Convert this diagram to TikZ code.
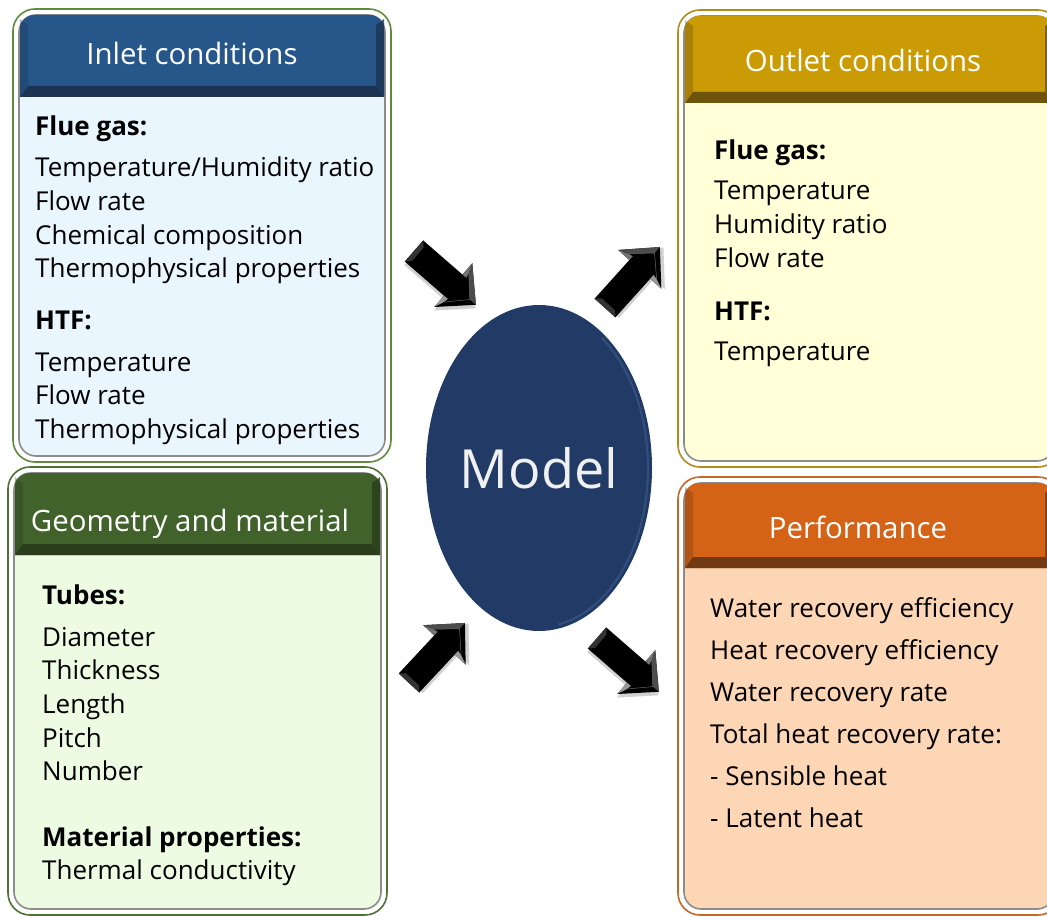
\documentclass[tikz,border=0pt]{standalone}
\usepackage{fontspec}
\setmainfont{Open Sans}
\usetikzlibrary{shapes.geometric}
\definecolor{inOut}{HTML}{5F8A3C}
\definecolor{inHead}{HTML}{26568A}
\definecolor{inDark}{HTML}{1C3452}
\definecolor{inBody}{HTML}{EAF6FD}
\definecolor{ouOut}{HTML}{B38A1C}
\definecolor{ouHead}{HTML}{CB9B06}
\definecolor{ouDark}{HTML}{6E530B}
\definecolor{ouBody}{HTML}{FFFFD8}
\definecolor{geOut}{HTML}{4E7034}
\definecolor{geHead}{HTML}{41622B}
\definecolor{geDark}{HTML}{2A3D1D}
\definecolor{geBody}{HTML}{EEFBE3}
\definecolor{peOut}{HTML}{C0692A}
\definecolor{peHead}{HTML}{D46318}
\definecolor{peDark}{HTML}{723A12}
\definecolor{peBody}{HTML}{FDD6B6}
\definecolor{modelBlue}{HTML}{213A66}
\definecolor{modelRim}{HTML}{5A78A6}
% #1 x1, #2 y1, #3 x2, #4 y2, #5 header bottom, #6 outline, #7 header, #8 dark, #9 body
\newcommand\mypanel[9]{%
  \draw[#6, line width=1.6, fill=white, rounded corners=22] (#1,-#2) rectangle (#3,-#4);
  \draw[black!45, line width=1.6, fill=#9, rounded corners=17] ({#1+6},{-#2-6}) rectangle ({#3-6},{-#4+6});
  \fill[#7] ({#1+7},{-#5}) {[rounded corners=14] -- ({#1+7},{-#2-6}) -- ({#3-7},{-#2-6})} -- ({#3-7},{-#5}) -- cycle;
  \fill[#8] ({#1+7},{-#5}) -- ({#1+15},{-#5+11}) -- ({#3-15},{-#5+11}) -- ({#3-7},{-#5}) -- cycle;
  \fill[#8, opacity=.8] ({#3-7},{-#5}) -- ({#3-15},{-#5+11}) -- ({#3-15},{-#2-16}) -- ({#3-7},{-#2-10}) -- cycle;
  \fill[#8, opacity=.35] ({#1+7},{-#5}) -- ({#1+15},{-#5+11}) -- ({#1+15},{-#2-16}) -- ({#1+7},{-#2-10}) -- cycle;
}
\tikzset{
  x=1pt, y=1pt,
  bodytxt/.style={anchor=base west, inner sep=0pt, text=black, font=\fontsize{26}{30}\selectfont},
  boldtxt/.style={anchor=base west, inner sep=0pt, text=black, font=\fontsize{26}{30}\selectfont\bfseries},
  titletxt/.style={anchor=base, inner sep=0pt, text=white, font=\fontsize{29.4}{34}\selectfont},
  blockarrow/.pic={
    \fill[black!40, opacity=.45, shift={(2,-3)}] (0,14) -- (52,14) -- (52,29) -- (82,0) -- (52,-29) -- (52,-14) -- (0,-14) -- cycle;
    \fill[black] (0,14) -- (52,14) -- (52,29) -- (82,0) -- (52,-29) -- (52,-14) -- (0,-14) -- cycle;
    \fill[black!55] (52,29) -- (56,19) -- (57,14) -- (52,14) -- cycle;
    \fill[black!40] (52,-29) -- (56,-19) -- (57,-14) -- (52,-14) -- cycle;
    \fill[black!70] (52,29) -- (82,0) -- (74,0) -- (56,19) -- cycle;
    \fill[black!80] (0,14) -- (5,9) -- (5,-9) -- (0,-14) -- cycle;
    \draw[black!60, line width=.5] (56,19) -- (74,0) -- (56,-19);
  }
}
\begin{document}
\begin{tikzpicture}
\clip (0,0) rectangle (1047,-917);
\fill[white] (0,0) rectangle (1047,-917);

% panels
\mypanel{13}{9}{391}{462}{97}{inOut}{inHead}{inDark}{inBody}
\mypanel{678}{10}{1060}{467}{103}{ouOut}{ouHead}{ouDark}{ouBody}
\mypanel{8}{467}{387}{915}{555}{geOut}{geHead}{geDark}{geBody}
\mypanel{678}{477}{1060}{915}{568}{peOut}{peHead}{peDark}{peBody}

% titles
\node[titletxt] (tin) at (192,-65) {Inlet conditions};
\node[titletxt] (tout) at (863,-72) {Outlet conditions};
\node[titletxt] (tgeo) at (190,-531) {Geometry and material};
\node[titletxt] (tperf) at (858,-538) {Performance};

% inlet text
\node[boldtxt] (ia) at (35,-136) {Flue gas:};
\node[bodytxt] (ib) at (35,-177) {Temperature/Humidity ratio};
\node[bodytxt] (ic) at (35,-211) {Flow rate};
\node[bodytxt] (id) at (35,-245) {Chemical composition};
\node[bodytxt] (ie) at (35,-278) {Thermophysical properties};
\node[boldtxt] (if) at (35,-330) {HTF:};
\node[bodytxt] (ig) at (35,-371) {Temperature};
\node[bodytxt] (ih) at (35,-404) {Flow rate};
\node[bodytxt] (ii) at (35,-438) {Thermophysical properties};

% outlet text
\node[boldtxt] (oa) at (714,-160) {Flue gas:};
\node[bodytxt] (ob) at (714,-200) {Temperature};
\node[bodytxt] (oc) at (714,-234) {Humidity ratio};
\node[bodytxt] (od) at (714,-268) {Flow rate};
\node[boldtxt] (oe) at (714,-320) {HTF:};
\node[bodytxt] (of) at (714,-360) {Temperature};

% geometry text
\node[boldtxt] (ga) at (42,-604) {Tubes:};
\node[bodytxt] (gb) at (42,-646) {Diameter};
\node[bodytxt] (gc) at (42,-679) {Thickness};
\node[bodytxt] (gd) at (42,-713) {Length};
\node[bodytxt] (ge) at (42,-747) {Pitch};
\node[bodytxt] (gf) at (42,-780) {Number};
\node[boldtxt] (gg) at (42,-846) {Material properties:};
\node[bodytxt] (gh) at (42,-879) {Thermal conductivity};

% performance text
\node[bodytxt] (pa) at (710,-617) {Water recovery efficiency};
\node[bodytxt] (pb) at (710,-659) {Heat recovery efficiency};
\node[bodytxt] (pc) at (710,-701) {Water recovery rate};
\node[bodytxt] (pd) at (710,-743) {Total heat recovery rate:};
\node[bodytxt] (pe) at (710,-785) {- Sensible heat};
\node[bodytxt] (pf) at (710,-827) {- Latent heat};

% model
\node[ellipse, fill=modelBlue, minimum width=226, minimum height=326, inner sep=0pt,
      text=white!94!black, font=\fontsize{54}{58}\selectfont] (model) at (539,-468) {Model};
\draw[modelRim, line width=2, opacity=.35] (model.center) ++(-80:109 and 159) arc[start angle=-80, end angle=55, x radius=109, y radius=159];

% arrows
\pic[rotate=-41] at (414,-251) {blockarrow};
\pic[rotate=48] at (605,-308) {blockarrow};
\pic[rotate=47] at (409,-683) {blockarrow};
\pic[rotate=-41] at (597,-638) {blockarrow};
\end{tikzpicture}
\end{document}
